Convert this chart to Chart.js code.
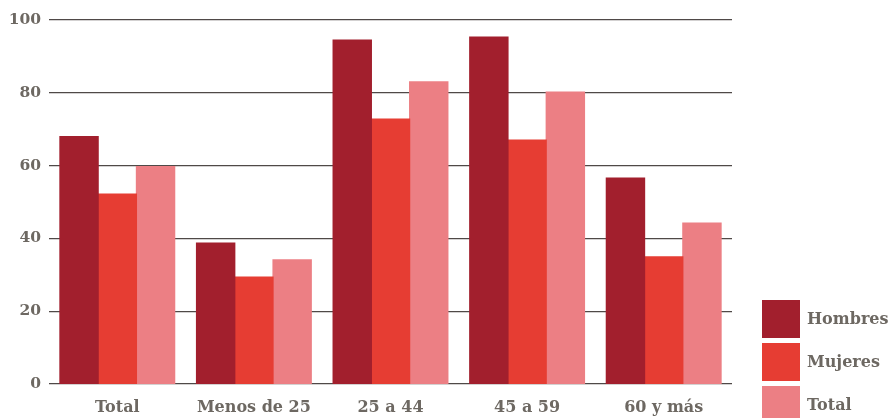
<!DOCTYPE html>
<html>
<head>
<meta charset="utf-8">
<script src="https://cdn.jsdelivr.net/npm/chart.js@4"></script>
<style>
  html, body { margin: 0; padding: 0; background: #fff; }
  #wrap { position: relative; width: 892px; height: 418px; overflow: hidden; }
  #legend { position: absolute; left: 762px; top: 297px; font: bold 16px "DejaVu Serif", serif; color: #6d6862; }
  .item { display: flex; align-items: center; height: 43px; }
  .sw { width: 38px; height: 38px; margin-right: 7px; }
</style>
</head>
<body>
<div id="wrap">
  <canvas id="c" width="892" height="418"></canvas>
  <div id="legend"></div>
</div>
<script>
const categories = ['Total', 'Menos de 25', '25 a 44', '45 a 59', '60 y más'];
const hombres = [68, 38.7, 94.5, 95.3, 56.6];
const mujeres = [52.2, 29.4, 72.8, 67, 34.9];
const total = [59.7, 34.1, 83, 80.2, 44.2];
const seriesNames = ['Hombres', 'Mujeres', 'Total'];
const colors = ['#a21f2d', '#e63d33', '#ec7f84'];
const yTicks = [0, 20, 40, 60, 80, 100];

const textColor = '#6d6862';
const fontX = { family: '"DejaVu Serif", serif', weight: 'bold', size: 16 };
const fontY = { family: '"DejaVu Serif", serif', weight: 'bold', size: 15.5 };

const chart = new Chart(document.getElementById('c'), {
  type: 'bar',
  data: {
    labels: categories,
    datasets: [hombres, mujeres, total].map((d, i) => ({
      label: seriesNames[i],
      data: d,
      backgroundColor: colors[i],
      borderWidth: 0,
      inflateAmount: 0.6,
      categoryPercentage: 0.84,
      barPercentage: 1
    }))
  },
  options: {
    responsive: false,
    animation: false,
    layout: { padding: { top: 20, right: 160, bottom: 0, left: 0 } },
    plugins: { legend: { display: false }, tooltip: { enabled: false } },
    scales: {
      x: {
        grid: { display: false },
        border: { display: false },
        ticks: { color: textColor, font: fontX, padding: 6, maxRotation: 0 },
        afterFit: s => { s.height = 34; }
      },
      y: {
        min: 0, max: 100,
        z: 1,
        afterBuildTicks: s => { s.ticks = yTicks.map(v => ({ value: v })); },
        grid: { color: 'rgba(35,28,25,0.8)', lineWidth: 1.3, drawTicks: false },
        border: { display: false },
        ticks: { color: textColor, font: fontY, padding: 8 },
        afterFit: s => { s.width = 49; }
      }
    }
  }
});

const lg = document.getElementById('legend');
seriesNames.forEach((n, i) => {
  const it = document.createElement('div');
  it.className = 'item';
  it.innerHTML = '<div class="sw" style="background:' + colors[i] + '"></div><span>' + n + '</span>';
  lg.appendChild(it);
});
</script>
</body>
</html>
